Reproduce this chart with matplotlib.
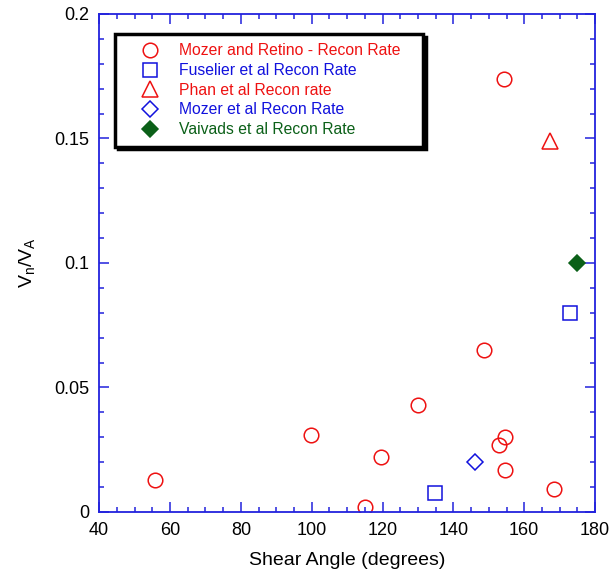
import matplotlib
matplotlib.use("Agg")
import matplotlib.pyplot as plt
from matplotlib.ticker import MultipleLocator, FormatStrFormatter

plt.rcParams['font.family'] = ['Liberation Sans', 'DejaVu Sans']
plt.rcParams['mathtext.fontset'] = 'custom'
plt.rcParams['mathtext.rm'] = 'Liberation Sans'

# Mozer and Retino - Recon Rate
mr_angle = [55.8, 99.8, 115.1, 119.6, 130.0, 148.7, 152.9, 154.6, 154.6, 154.3, 168.4]
mr_rate = [0.0128, 0.031, 0.002, 0.022, 0.043, 0.065, 0.027, 0.030, 0.017, 0.174, 0.009]
# Fuselier et al Recon Rate
fus_angle = [134.8, 172.9]
fus_rate = [0.0075, 0.080]
# Phan et al Recon rate
phan_angle = [167.4]
phan_rate = [0.149]
# Mozer et al Recon Rate
moz_angle = [146.1]
moz_rate = [0.020]
# Vaivads et al Recon Rate
vai_angle = [174.8]
vai_rate = [0.100]

red = '#ee1111'
blue = '#1111dd'
green = '#0b6018'
spine_blue = '#2222dd'

fig = plt.figure(figsize=(6.16, 5.83), dpi=100)
ax = fig.add_axes([0.161, 0.122, 0.805, 0.854])

ax.plot(mr_angle, mr_rate, 'o', ms=10.5, mfc='none', mec=red, mew=1.1,
        label='Mozer and Retino - Recon Rate')
ax.plot(fus_angle, fus_rate, 's', ms=10.5, mfc='none', mec=blue, mew=1.1,
        label='Fuselier et al Recon Rate')
ax.plot(phan_angle, phan_rate, '^', ms=12, mfc='none', mec=red, mew=1.1,
        label='Phan et al Recon rate')
ax.plot(moz_angle, moz_rate, 'D', ms=8.5, mfc='none', mec=blue, mew=1.1,
        label='Mozer et al Recon Rate')
ax.plot(vai_angle, vai_rate, 'D', ms=8.5, mfc=green, mec=green, mew=1.1,
        label='Vaivads et al Recon Rate')

ax.set_xlim(40, 180)
ax.set_ylim(0, 0.2)
ax.xaxis.set_major_locator(MultipleLocator(20))
ax.xaxis.set_minor_locator(MultipleLocator(5))
ax.yaxis.set_major_locator(MultipleLocator(0.05))
ax.yaxis.set_minor_locator(MultipleLocator(0.01))
ax.yaxis.set_major_formatter(FormatStrFormatter('%g'))

for s in ax.spines.values():
    s.set_color(spine_blue)
    s.set_linewidth(1.3)

ax.tick_params(which='both', direction='in', top=True, right=True,
               color=spine_blue, width=1.1, labelsize=13, labelcolor='black')
ax.tick_params(which='major', length=7, pad=7)
ax.tick_params(which='minor', length=3.5)

ax.set_xlabel('Shear Angle (degrees)', fontsize=14, labelpad=10)
ax.set_ylabel(r'V$_\mathregular{n}$/V$_\mathregular{A}$', fontsize=14, labelpad=12)

leg = ax.legend(loc='upper left', bbox_to_anchor=(0.032, 0.73, 0.621, 0.23),
                mode='expand', borderaxespad=0,
                fontsize=11.3, frameon=True, fancybox=False, framealpha=1,
                edgecolor='black', handlelength=3.2, handletextpad=0.3,
                labelspacing=0.3, borderpad=0.6,
                shadow={'color': 'black', 'alpha': 1})
leg.get_frame().set_linewidth(2.5)
for txt, col in zip(leg.get_texts(), [red, blue, red, blue, green]):
    txt.set_color(col)

fig.savefig('out.png', dpi=100)
